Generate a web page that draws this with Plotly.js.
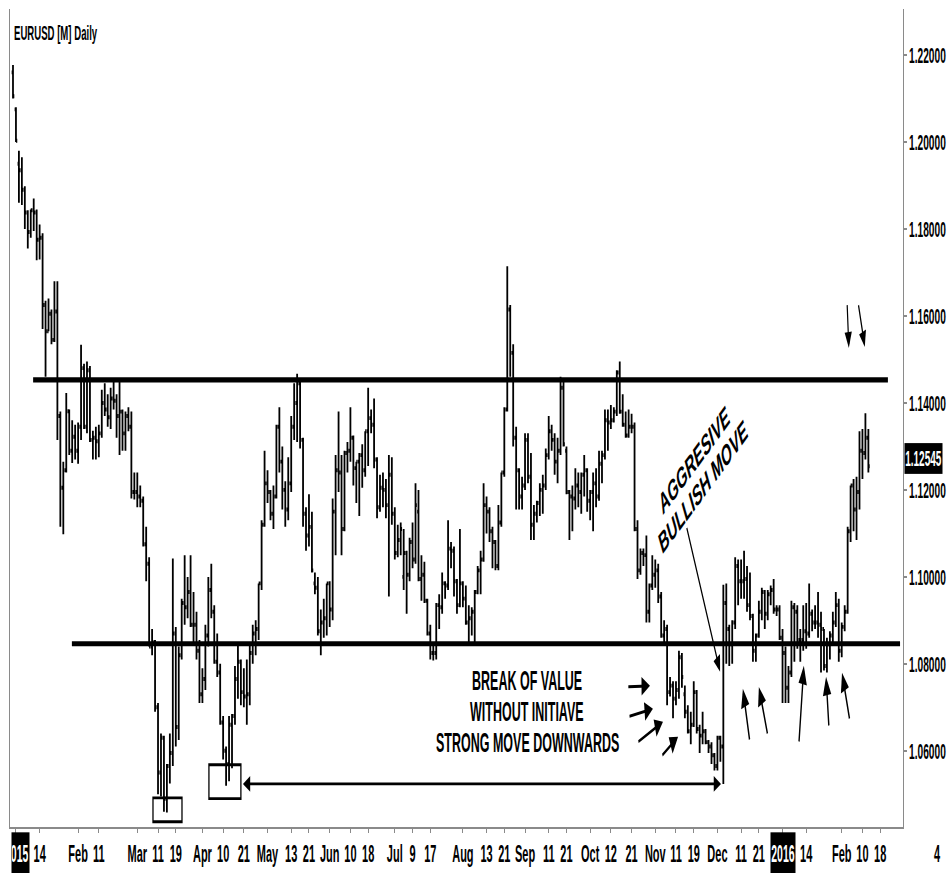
<!DOCTYPE html>
<html>
<head>
<meta charset="utf-8">
<script src="https://cdn.plot.ly/plotly-3.0.1.min.js"></script>
<style>
html,body{margin:0;padding:0;background:#fff;overflow:hidden}
#stage{width:948px;height:873px;overflow:hidden;position:relative;background:#fff}
#chart{width:948px;height:397px;transform:scale(1,2.199);transform-origin:0 0}
</style>
</head>
<body>
<div id="stage"><div id="chart"></div></div>
<script>
// ---------------- data (EURUSD daily) ----------------
const symbolTitle = 'EURUSD [M] Daily';
const firstBarDate = '2014-12-31';
const marketHolidays = ['2015-01-01', '2015-12-25', '2016-01-01'];

const opens = [
1.2160,1.2075,1.1950,1.1935,1.1890,1.1838,1.1793,1.1843,1.1838,1.1775,
1.1780,1.1625,1.1565,1.1605,1.1545,1.1610,1.1370,1.1205,1.1245,1.1381,
1.1290,1.1322,1.1290,1.1345,1.1480,1.1345,1.1475,1.1315,1.1320,1.1312,
1.1330,1.1400,1.1385,1.1367,1.1410,1.1405,1.1370,1.1380,1.1330,1.1370,
1.1345,1.1195,1.1195,1.1185,1.1175,1.1075,1.1030,1.0840,1.0850,1.0700,
1.0550,1.0630,1.0490,1.0565,1.0595,1.0870,1.0655,1.0820,1.0940,1.0930,
1.0965,1.0890,1.0890,1.0830,1.0730,1.0765,1.0865,1.0970,1.0920,1.0805,
1.0780,1.0665,1.0600,1.0570,1.0660,1.0680,1.0765,1.0805,1.0735,1.0725,
1.0730,1.0825,1.0870,1.0880,1.0985,1.1120,1.1215,1.1195,1.1145,1.1185,
1.1345,1.1265,1.1200,1.1155,1.1215,1.1345,1.1400,1.1445,1.1315,1.1145,
1.1095,1.1115,1.0985,1.0975,1.0875,1.0895,1.0905,1.0985,1.0925,1.1150,
1.1245,1.1240,1.1110,1.1285,1.1290,1.1320,1.1250,1.1265,1.1280,1.1245,
1.1335,1.1365,1.1350,1.1270,1.1160,1.1205,1.1200,1.1165,1.1235,1.1145,
1.1055,1.1085,1.1000,1.1055,1.1005,1.1080,1.1040,1.1150,1.0995,1.1005,
1.0945,1.0870,1.0825,1.0825,1.0935,1.0930,1.0985,1.0980,1.1065,1.1060,
1.0990,1.0935,1.0985,1.0950,1.0895,1.0905,1.0920,1.0965,1.1015,1.1040,
1.1165,1.1150,1.1105,1.1080,1.1025,1.1125,1.1240,1.1385,1.1615,1.1515,
1.1320,1.1245,1.1185,1.1210,1.1315,1.1230,1.1120,1.1145,1.1170,1.1200,
1.1210,1.1280,1.1335,1.1315,1.1265,1.1290,1.1435,1.1290,1.1195,1.1185,
1.1180,1.1210,1.1195,1.1235,1.1245,1.1175,1.1195,1.1215,1.1185,1.1260,
1.1280,1.1360,1.1355,1.1360,1.1380,1.1470,1.1380,1.1350,1.1325,1.1345,
1.1345,1.1110,1.1015,1.1055,1.1050,1.0920,1.0980,1.1005,1.1015,1.0955,
1.0865,1.0880,1.0735,1.0750,1.0720,1.0740,1.0815,1.0730,1.0690,1.0645,
1.0660,1.0735,1.0650,1.0635,1.0645,1.0620,1.0610,1.0590,1.0565,1.0630,
1.0610,1.0940,1.0880,1.0845,1.0895,1.1025,1.0990,1.0990,1.0995,1.0935,
1.0910,1.0830,1.0865,1.0920,1.0965,1.0915,1.0960,1.0970,1.0925,1.0925,
1.0860,1.0825,1.0745,1.0780,1.0930,1.0920,1.0855,1.0855,1.0875,1.0870,
1.0915,1.0895,1.0895,1.0890,1.0880,1.0795,1.0845,1.0865,1.0895,1.0935,
1.0830,1.0885,1.0920,1.1105,1.1210,1.1155,1.1195,1.1290,1.1285,1.1320];

const highs = [
1.2177,1.2080,1.1980,1.1965,1.1898,1.1843,1.1845,1.1870,1.1845,1.1810,
1.1790,1.1635,1.1640,1.1615,1.1680,1.1680,1.1380,1.1265,1.1423,1.1385,
1.1360,1.1350,1.1355,1.1534,1.1490,1.1495,1.1485,1.1336,1.1345,1.1350,
1.1430,1.1445,1.1420,1.1435,1.1448,1.1420,1.1450,1.1385,1.1380,1.1390,
1.1380,1.1240,1.1240,1.1210,1.1185,1.1115,1.1045,1.0880,1.0855,1.0710,
1.0640,1.0635,1.0570,1.0640,1.1042,1.0885,1.0840,1.0950,1.1050,1.1000,
1.1050,1.0965,1.0920,1.0855,1.0790,1.0890,1.1000,1.1030,1.0935,1.0870,
1.0800,1.0680,1.0610,1.0680,1.0685,1.0795,1.0850,1.0810,1.0790,1.0810,
1.0850,1.0890,1.0900,1.0985,1.1130,1.1290,1.1245,1.1200,1.1210,1.1350,
1.1390,1.1300,1.1220,1.1275,1.1370,1.1445,1.1467,1.1450,1.1320,1.1160,
1.1190,1.1150,1.1010,1.1000,1.0925,1.0950,1.0985,1.0990,1.1180,1.1280,
1.1380,1.1280,1.1290,1.1310,1.1390,1.1325,1.1265,1.1285,1.1305,1.1335,
1.1435,1.1385,1.1410,1.1275,1.1235,1.1240,1.1225,1.1280,1.1275,1.1160,
1.1120,1.1125,1.1110,1.1060,1.1090,1.1125,1.1215,1.1200,1.1050,1.1035,
1.0950,1.0890,1.0850,1.0940,1.0960,1.1010,1.0990,1.1130,1.1080,1.1070,
1.0995,1.1110,1.0990,1.0980,1.0935,1.0930,1.0970,1.1025,1.1060,1.1215,
1.1185,1.1160,1.1115,1.1085,1.1165,1.1240,1.1390,1.1714,1.1625,1.1535,
1.1345,1.1250,1.1230,1.1330,1.1330,1.1285,1.1165,1.1175,1.1215,1.1235,
1.1295,1.1370,1.1350,1.1330,1.1320,1.1460,1.1450,1.1300,1.1200,1.1210,
1.1250,1.1240,1.1240,1.1280,1.1250,1.1200,1.1240,1.1250,1.1290,1.1290,
1.1385,1.1385,1.1395,1.1390,1.1475,1.1495,1.1420,1.1380,1.1385,1.1375,
1.1355,1.1130,1.1065,1.1065,1.1095,1.0985,1.1050,1.1040,1.1030,1.0965,
1.0900,1.0890,1.0770,1.0760,1.0760,1.0830,1.0825,1.0750,1.0705,1.0690,
1.0760,1.0740,1.0660,1.0690,1.0650,1.0625,1.0620,1.0595,1.0635,1.0635,
1.0982,1.0985,1.0890,1.0900,1.1045,1.1040,1.1040,1.1060,1.1025,1.1010,
1.0915,1.0870,1.0945,1.0975,1.0970,1.0970,1.0980,1.0995,1.0935,1.0935,
1.0880,1.0840,1.0795,1.0945,1.0940,1.0935,1.0880,1.0935,1.0940,1.0985,
1.0925,1.0935,1.0965,1.0920,1.0880,1.0860,1.0875,1.0920,1.0965,1.0950,
1.0895,1.0935,1.1115,1.1210,1.1225,1.1230,1.1335,1.1340,1.1376,1.1340];

const lows = [
1.2100,1.2000,1.1860,1.1855,1.1800,1.1755,1.1780,1.1795,1.1728,1.1730,
1.1570,1.1460,1.1565,1.1535,1.1540,1.1315,1.1115,1.1098,1.1240,1.1280,
1.1262,1.1270,1.1260,1.1315,1.1340,1.1330,1.1310,1.1270,1.1270,1.1275,
1.1320,1.1370,1.1345,1.1340,1.1385,1.1320,1.1280,1.1290,1.1290,1.1335,
1.1180,1.1178,1.1160,1.1160,1.1070,1.0990,1.0840,1.0820,1.0690,1.0500,
1.0495,1.0460,1.0458,1.0525,1.0565,1.0610,1.0625,1.0810,1.0890,1.0905,
1.0885,1.0845,1.0810,1.0710,1.0710,1.0740,1.0840,1.0905,1.0800,1.0770,
1.0660,1.0580,1.0520,1.0530,1.0560,1.0660,1.0720,1.0705,1.0700,1.0660,
1.0705,1.0800,1.0820,1.0855,1.0970,1.1115,1.1170,1.1130,1.1110,1.1180,
1.1240,1.1155,1.1115,1.1130,1.1195,1.1315,1.1310,1.1295,1.1115,1.1060,
1.1070,1.1010,1.0960,1.0865,1.0820,1.0860,1.0865,1.0885,1.0900,1.1050,
1.1195,1.1050,1.1105,1.1240,1.1265,1.1210,1.1170,1.1140,1.1205,1.1230,
1.1255,1.1330,1.1250,1.1135,1.1150,1.1160,1.1135,1.0955,1.1120,1.1040,
1.1045,1.1050,1.0970,1.0915,1.0990,1.1020,1.1030,1.0990,1.0945,1.0940,
1.0865,1.0810,1.0808,1.0810,1.0880,1.0915,1.0950,1.0970,1.1020,1.0955,
1.0915,1.0930,1.0930,1.0890,1.0850,1.0865,1.0850,1.0960,1.0960,1.1035,
1.1100,1.1080,1.1020,1.1015,1.1015,1.1115,1.1230,1.1380,1.1460,1.1300,
1.1155,1.1155,1.1155,1.1200,1.1215,1.1085,1.1085,1.1125,1.1140,1.1145,
1.1200,1.1270,1.1290,1.1235,1.1215,1.1280,1.1300,1.1190,1.1085,1.1105,
1.1155,1.1160,1.1145,1.1185,1.1150,1.1130,1.1105,1.1160,1.1175,1.1215,
1.1270,1.1290,1.1340,1.1355,1.1370,1.1375,1.1345,1.1320,1.1320,1.1330,
1.1105,1.0995,1.1005,1.1025,1.0895,1.0895,1.0970,1.0975,1.0940,1.0860,
1.0850,1.0705,1.0725,1.0675,1.0705,1.0720,1.0745,1.0675,1.0640,1.0615,
1.0655,1.0640,1.0595,1.0615,1.0615,1.0595,1.0570,1.0555,1.0555,1.0575,
1.0524,1.0800,1.0795,1.0800,1.0880,1.0935,1.0950,1.0950,1.0920,1.0900,
1.0805,1.0805,1.0860,1.0900,1.0880,1.0900,1.0935,1.0915,1.0910,1.0855,
1.0710,1.0710,1.0710,1.0770,1.0805,1.0835,1.0805,1.0830,1.0835,1.0860,
1.0875,1.0880,1.0860,1.0780,1.0785,1.0780,1.0810,1.0850,1.0885,1.0805,
1.0815,1.0875,1.0915,1.1080,1.1105,1.1085,1.1155,1.1225,1.1270,1.1240];

const closes = [
1.2105,1.2003,1.1935,1.1890,1.1838,1.1793,1.1843,1.1838,1.1775,1.1780,
1.1625,1.1565,1.1605,1.1545,1.1610,1.1370,1.1205,1.1245,1.1381,1.1290,
1.1322,1.1290,1.1345,1.1480,1.1345,1.1475,1.1315,1.1320,1.1312,1.1330,
1.1400,1.1385,1.1367,1.1410,1.1405,1.1370,1.1380,1.1330,1.1370,1.1345,
1.1195,1.1195,1.1185,1.1175,1.1075,1.1030,1.0840,1.0850,1.0700,1.0550,
1.0630,1.0490,1.0565,1.0595,1.0870,1.0655,1.0820,1.0940,1.0930,1.0965,
1.0890,1.0890,1.0830,1.0730,1.0765,1.0865,1.0970,1.0920,1.0805,1.0780,
1.0665,1.0600,1.0570,1.0660,1.0680,1.0765,1.0805,1.0735,1.0725,1.0730,
1.0825,1.0870,1.0880,1.0985,1.1120,1.1215,1.1195,1.1145,1.1185,1.1345,
1.1265,1.1200,1.1155,1.1215,1.1345,1.1400,1.1445,1.1315,1.1145,1.1095,
1.1115,1.1015,1.0975,1.0875,1.0895,1.0905,1.0985,1.0925,1.1150,1.1245,
1.1240,1.1110,1.1285,1.1290,1.1320,1.1250,1.1265,1.1280,1.1245,1.1335,
1.1365,1.1350,1.1270,1.1160,1.1205,1.1200,1.1165,1.1235,1.1145,1.1055,
1.1085,1.1110,1.1055,1.1005,1.1080,1.1040,1.1165,1.0995,1.1005,1.0945,
1.0870,1.0825,1.0825,1.0935,1.0930,1.0985,1.0980,1.1065,1.1060,1.0990,
1.0935,1.0985,1.0950,1.0895,1.0905,1.0920,1.0965,1.1015,1.1040,1.1165,
1.1150,1.1105,1.1080,1.1025,1.1125,1.1240,1.1385,1.1615,1.1515,1.1320,
1.1245,1.1185,1.1210,1.1315,1.1230,1.1120,1.1145,1.1170,1.1200,1.1210,
1.1280,1.1335,1.1315,1.1265,1.1290,1.1435,1.1305,1.1195,1.1185,1.1180,
1.1210,1.1195,1.1235,1.1245,1.1175,1.1195,1.1215,1.1185,1.1260,1.1280,
1.1360,1.1355,1.1360,1.1380,1.1470,1.1380,1.1350,1.1325,1.1345,1.1345,
1.1110,1.1015,1.1055,1.1050,1.0920,1.0980,1.1005,1.1015,1.0955,1.0865,
1.0880,1.0735,1.0750,1.0720,1.0740,1.0815,1.0770,1.0690,1.0645,1.0660,
1.0735,1.0650,1.0635,1.0645,1.0620,1.0610,1.0590,1.0565,1.0630,1.0610,
1.0940,1.0880,1.0845,1.0895,1.1025,1.0990,1.0990,1.0995,1.0935,1.0910,
1.0830,1.0865,1.0920,1.0965,1.0915,1.0960,1.0970,1.0925,1.0925,1.0860,
1.0825,1.0745,1.0780,1.0930,1.0920,1.0855,1.0855,1.0875,1.0870,1.0915,
1.0895,1.0895,1.0890,1.0880,1.0795,1.0845,1.0865,1.0895,1.0935,1.0830,
1.0885,1.0920,1.1105,1.1210,1.1155,1.1195,1.1290,1.1285,1.1320,1.12545];

// time-scale labels
const tickDates = ['2015-01-02','2015-01-14','2015-02-02','2015-02-11','2015-03-02','2015-03-11','2015-03-19',
  '2015-04-01','2015-04-10','2015-04-21','2015-05-01','2015-05-13','2015-05-21','2015-06-01','2015-06-10',
  '2015-06-18','2015-07-01','2015-07-09','2015-07-17','2015-08-03','2015-08-13','2015-08-21','2015-09-01',
  '2015-09-11','2015-09-21','2015-10-01','2015-10-12','2015-10-21','2015-11-02','2015-11-11','2015-11-19',
  '2015-12-01','2015-12-11','2015-12-21','2016-01-04','2016-01-14','2016-02-01','2016-02-10','2016-02-18'];
const tickLabels = ['2015','14','Feb','11','Mar','11','19','Apr','10','21','May','13','21','Jun','10',
  '18','Jul','9','17','Aug','13','21','Sep','11','21','Oct','12','21','Nov','11','19',
  'Dec','11','21','2016','14','Feb','10','18'];
const yearLabels = ['2015', '2016'];

// drawn levels and notes
const resistanceLevel = 1.1453;
const supportLevel = 1.0846;
const noteLines = ['BREAK OF VALUE', 'WITHOUT INITIAVE', 'STRONG MOVE DOWNWARDS'];
const bullNote = ['AGGRESIVE', 'BULLISH MOVE'];
const cornerLabel = '4';

// ---------------- build ----------------
function ymd(d) { return d.toISOString().slice(0, 10); }
function buildTradingDays(from, count) {
  const out = [];
  const d = new Date(from + 'T00:00:00Z');
  while (out.length < count) {
    const wd = d.getUTCDay();
    const s = ymd(d);
    if (wd !== 0 && wd !== 6 && !marketHolidays.includes(s)) out.push(s);
    d.setUTCDate(d.getUTCDate() + 1);
  }
  return out;
}
const calendar = buildTradingDays(firstBarDate, 330);
const barDates = calendar.slice(0, closes.length);
const barIdx = barDates.map((_, i) => i);
const tickPos = tickDates.map(d => calendar.indexOf(d));
const tickText = tickLabels.map(t => yearLabels.includes(t) ? '' : t);
const lastClose = closes[closes.length - 1];

const SANS = '"Liberation Sans", Arial, sans-serif';

const trace = {
  type: 'ohlc',
  x: barIdx,
  open: opens, high: highs, low: lows, close: closes,
  text: barDates,
  hoverinfo: 'none',
  increasing: {line: {color: '#000', width: 1.8}},
  decreasing: {line: {color: '#000', width: 1.8}},
  tickwidth: 0.45,
  showlegend: false
};

function arrow(hx, hy, tx, ty, extra) {
  return Object.assign({
    x: hx, y: hy, ax: tx, ay: ty, xref: 'x', yref: 'y', axref: 'x', ayref: 'y',
    text: '', showarrow: true, arrowhead: 2, arrowsize: 1.2, arrowwidth: 1.4,
    arrowcolor: '#000', standoff: 0, startstandoff: 0
  }, extra || {});
}
function note(txt, x, y, size, angle) {
  return {x: x, y: y, xref: 'x', yref: 'y', text: txt, showarrow: false,
    xanchor: 'center', yanchor: 'middle', textangle: angle || 0,
    font: {family: SANS, size: size, color: '#000', weight: 'bold'}};
}

const annotations = [
  {xref: 'paper', yref: 'paper', x: 0, y: 1, xanchor: 'left', yanchor: 'middle', xshift: 2, yshift: -10,
   text: symbolTitle, showarrow: false, font: {family: SANS, size: 9.6, color: '#000', weight: 'bold'}},
  note(noteLines[0], 173.8, 1.0761, 12.5),
  note(noteLines[1], 173.8, 1.0687, 12.5),
  note(noteLines[2], 173.8, 1.0616, 12.5),
  note(bullNote[0], 230.1, 1.1269, 13.5, -32),
  note(bullNote[1], 233.1, 1.1207, 13.5, -32),
  arrow(238.9, 1.0782, 227.4, 1.1120, {arrowwidth: 1.2}),
  arrow(215.2, 1.07494, 207.4, 1.07471),
  arrow(216.2, 1.06966, 207.8, 1.06782),
  arrow(219.6, 1.06667, 210.8, 1.06184),
  arrow(224.7, 1.06322, 218.9, 1.05862),
  arrow(246.6, 1.07425, 249.0, 1.06184),
  arrow(252.0, 1.07471, 255.1, 1.06322),
  arrow(267.2, 1.07954, 265.5, 1.06138),
  arrow(274.7, 1.07701, 275.7, 1.06506),
  arrow(280.1, 1.07793, 282.8, 1.06667),
  arrow(282.4, 1.15264, 281.8, 1.16322, {arrowwidth: 1.2}),
  arrow(287.8, 1.15287, 285.5, 1.16322, {arrowwidth: 1.2}),
  arrow(239.2, 1.0524, 77.2, 1.0524, {arrowside: 'end+start', startarrowhead: 2, startarrowsize: 1.2, arrowwidth: 1.2}),
  // current price box
  {xref: 'paper', yref: 'y', x: 1, y: lastClose, xanchor: 'left', yanchor: 'middle', xshift: 1, yshift: 3.3,
   text: lastClose.toFixed(5), showarrow: false, bgcolor: '#000', borderpad: 0, width: 37, height: 12.5,
   font: {family: SANS, size: 10, color: '#fff', weight: 'bold'}},
  // year labels on the time scale
  {xref: 'paper', yref: 'paper', x: 0, y: 0, xanchor: 'left', yanchor: 'middle', xshift: 0.7, yshift: -11.5,
   text: yearLabels[0], showarrow: false, bgcolor: '#000', borderpad: 0, width: 16.5, height: 18, align: 'right',
   font: {family: SANS, size: 10.5, color: '#fff', weight: 'bold'}},
  {xref: 'x', yref: 'paper', x: calendar.indexOf('2016-01-04'), y: 0, xanchor: 'center', yanchor: 'middle', yshift: -11.5,
   text: yearLabels[1], showarrow: false, bgcolor: '#000', borderpad: 0, width: 24, height: 18,
   font: {family: SANS, size: 10.5, color: '#fff', weight: 'bold'}},
  {xref: 'paper', yref: 'paper', x: 1.0448, y: 0, xanchor: 'right', yanchor: 'middle', yshift: -11.5,
   text: cornerLabel, showarrow: false, font: {family: SANS, size: 11, color: '#000', weight: 'bold'}}
];

const shapes = [
  {type: 'line', xref: 'x', yref: 'y', x0: 6.8, x1: 295.6, y0: resistanceLevel, y1: resistanceLevel, line: {color: '#000', width: 2.3}},
  {type: 'line', xref: 'x', yref: 'y', x0: 19.9, x1: 299.7, y0: supportLevel, y1: supportLevel, line: {color: '#000', width: 2.3}},
  {type: 'rect', xref: 'x', yref: 'y', x0: 47.3, x1: 57.1, y0: 1.0437, y1: 1.0492, line: {color: '#000', width: 1.3}},
  {type: 'rect', xref: 'x', yref: 'y', x0: 66.2, x1: 77.0, y0: 1.0490, y1: 1.0568, line: {color: '#000', width: 1.3}}
];

const layout = {
  width: 948, height: 397,
  margin: {l: 10, r: 45, t: 4, b: 21, pad: 0},
  paper_bgcolor: '#fff', plot_bgcolor: '#fff',
  showlegend: false,
  xaxis: {
    type: 'linear', range: [-1.01, 300.7], fixedrange: true,
    rangeslider: {visible: false},
    showgrid: false, zeroline: false,
    showline: true, linecolor: '#8a8a8a', linewidth: 1,
    ticks: 'outside', ticklen: 2, tickwidth: 1, tickcolor: '#8a8a8a',
    tickmode: 'array', tickvals: tickPos, ticktext: tickText, tickangle: 0,
    tickfont: {family: SANS, size: 11, color: '#000', weight: 'bold'}
  },
  yaxis: {
    side: 'right', range: [1.04253, 1.23062], fixedrange: true,
    showgrid: false, zeroline: false,
    showline: true, mirror: true, linecolor: '#8a8a8a', linewidth: 1,
    ticks: 'outside', ticklen: 3, tickwidth: 1, tickcolor: '#8a8a8a',
    tick0: 1.06, dtick: 0.02, tickformat: '.5f',
    tickfont: {family: SANS, size: 10.2, color: '#000', weight: 'bold'}
  },
  annotations: annotations,
  shapes: shapes
};

Plotly.newPlot('chart', [trace], layout, {staticPlot: true, displayModeBar: false});
</script>
</body>
</html>
